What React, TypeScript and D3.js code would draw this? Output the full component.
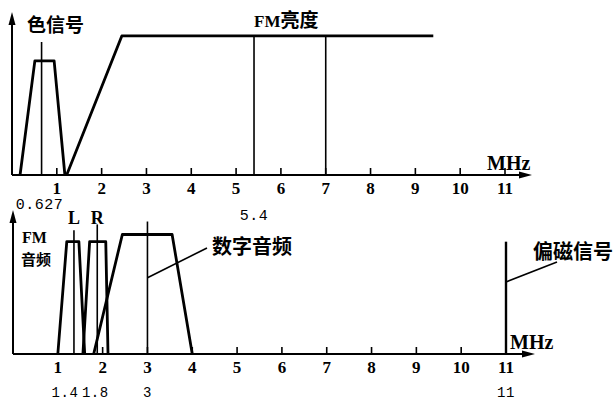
import React from "react";
import * as d3 from "d3";

// ---------- data ----------
const tickValues = [1, 2, 3, 4, 5, 6, 7, 8, 9, 10, 11];

// top panel
const chromaFreq = [0.18, 0.51, 0.94, 1.18];
const chromaLevel = [0, 0.7, 0.7, 0];
const lumaFreq = [1.22, 2.45, 9.4];
const lumaLevel = [0, 0.853, 0.853];
const topMarkerFreq = [0.66, 5.4, 7];
const topMarkerTop = [0.816, 0.853, 0.853];
const topMarkerLabels = ["0.627", "5.4", ""];

// bottom panel
const audioLFreq = [1.0, 1.2, 1.47, 1.6];
const audioLLevel = [0, 0.78, 0.78, 0];
const audioRFreq = [1.56, 1.71, 2.07, 2.12];
const audioRLevel = [0, 0.78, 0.78, 0];
const digitalFreq = [1.8, 2.44, 3.55, 4.0];
const digitalLevel = [0, 0.83, 0.83, 0];
const bottomMarkerFreq = [1.36, 1.88, 3, 11];
const bottomMarkerTop = [0.86, 0.9, 0.92, 0.78];
const bottomMarkerLabels = ["1.4", "1.8", "3", "11"];

const serif = "'Liberation Serif', 'Times New Roman', serif";
const mono = "'Liberation Mono', 'Courier New', monospace";
const cjk = "'Noto Sans CJK SC', sans-serif";

function Arrow({ x1, y1, x2, y2 }: { x1: number; y1: number; x2: number; y2: number }) {
  const ang = Math.atan2(y2 - y1, x2 - x1);
  const L = 13, W = 3.5;
  const bx = x2 - L * Math.cos(ang), by = y2 - L * Math.sin(ang);
  const px = -Math.sin(ang) * W, py = Math.cos(ang) * W;
  return (
    <g>
      <line x1={x1} y1={y1} x2={bx} y2={by} stroke="#000" strokeWidth={2} />
      <path d={`M${x2},${y2}L${bx + px},${by + py}L${bx - px},${by - py}Z`} fill="#000" />
    </g>
  );
}

function Panel({ x, y, xEnd, yTop }: any) {
  return (
    <g>
      <Arrow x1={x.range()[0]} y1={y(0)} x2={x.range()[0]} y2={yTop} />
      <Arrow x1={x.range()[0]} y1={y(0)} x2={xEnd} y2={y(0)} />
      {tickValues.map((t) => (
        <g key={t}>
          <line x1={x(t)} x2={x(t)} y1={y(0)} y2={y(0) - 7} stroke="#000" strokeWidth={1.6} />
          <text
            x={x(t)}
            y={y(0) + 19}
            textAnchor="middle"
            fontFamily={serif}
            fontWeight="bold"
            fontSize={17}
          >
            {t}
          </text>
        </g>
      ))}
    </g>
  );
}

export default function App() {
  const W = 614, H = 401;
  const xTop = d3.scaleLinear().domain([0, 11]).range([12, 505]);
  const yTop = d3.scaleLinear().domain([0, 1]).range([175, 12]);
  const xBot = d3.scaleLinear().domain([0, 11]).range([13, 506]);
  const yBot = d3.scaleLinear().domain([0, 1]).range([354, 210]);

  const lineTop = d3.line<number>().x((d) => xTop(d[0])).y((d) => yTop(d[1]));
  const lineBot = d3.line<number>().x((d) => xBot(d[0])).y((d) => yBot(d[1]));
  const zip = (a: number[], b: number[]) => a.map((v, i) => [v, b[i]]) as any;

  const bottomLabelDx = [-9, -2, 0, 0];

  return (
    <svg width={W} height={H} style={{ position: "absolute", left: 0, top: 0, background: "#fff" }}>
      <rect width={W} height={H} fill="#fff" />
      {/* ---------- top panel ---------- */}
      <Panel x={xTop} y={yTop} xEnd={532} yTop={12} />
      <path d={lineTop(zip(chromaFreq, chromaLevel))!} fill="none" stroke="#000" strokeWidth={2.8} strokeLinejoin="round" />
      <path d={lineTop(zip(lumaFreq, lumaLevel))!} fill="none" stroke="#000" strokeWidth={2.8} strokeLinejoin="round" />
      {topMarkerFreq.map((f, i) => (
        <line key={i} x1={xTop(f)} x2={xTop(f)} y1={yTop(0)} y2={yTop(topMarkerTop[i])} stroke="#000" strokeWidth={1.6} />
      ))}
      {topMarkerLabels.map((l, i) =>
        l ? (
          <text key={i} x={xTop(topMarkerFreq[i]) - (i === 0 ? 2 : 0)} y={i === 0 ? 209 : 220} textAnchor="middle" fontFamily={mono} fontSize={15} letterSpacing={0.5}>
            {l}
          </text>
        ) : null
      )}
      <text x={27} y={32} fontFamily={cjk} fontWeight="bold" fontSize={19}>色信号</text>
      <text x={254} y={27} fontFamily={serif} fontWeight="bold" fontSize={17}>
        FM<tspan fontFamily={cjk} fontSize={19}>亮度</tspan>
      </text>
      <text x={487} y={170} fontFamily={serif} fontWeight="bold" fontSize={20}>MHz</text>

      {/* ---------- bottom panel ---------- */}
      <Panel x={xBot} y={yBot} xEnd={535} yTop={210} />
      <path d={lineBot(zip(audioLFreq, audioLLevel))!} fill="none" stroke="#000" strokeWidth={2.8} strokeLinejoin="round" />
      <path d={lineBot(zip(audioRFreq, audioRLevel))!} fill="none" stroke="#000" strokeWidth={2.8} strokeLinejoin="round" />
      <path d={lineBot(zip(digitalFreq, digitalLevel))!} fill="none" stroke="#000" strokeWidth={2.8} strokeLinejoin="round" />
      {bottomMarkerFreq.map((f, i) => (
        <line key={i} x1={xBot(f)} x2={xBot(f)} y1={yBot(0)} y2={yBot(bottomMarkerTop[i])} stroke="#000" strokeWidth={i === 3 ? 2.4 : 1.6} />
      ))}
      {bottomMarkerLabels.map((l, i) => (
        <text key={i} x={xBot(bottomMarkerFreq[i]) + bottomLabelDx[i]} y={397} textAnchor="middle" fontFamily={mono} fontSize={14} letterSpacing={0.5}>
          {l}
        </text>
      ))}
      <text x={xBot(1.36)} y={224} textAnchor="middle" fontFamily={serif} fontWeight="bold" fontSize={18}>L</text>
      <text x={xBot(1.88)} y={224} textAnchor="middle" fontFamily={serif} fontWeight="bold" fontSize={18}>R</text>
      <text x={22} y={243} fontFamily={serif} fontWeight="bold" fontSize={16}>FM</text>
      <text x={21} y={265} fontFamily={cjk} fontWeight="bold" fontSize={15}>音频</text>
      {/* leader: digital audio */}
      <line x1={xBot(3)} y1={yBot(0.53)} x2={207} y2={248} stroke="#000" strokeWidth={1.6} />
      <text x={212} y={254} fontFamily={cjk} fontWeight="bold" fontSize={20}>数字音频</text>
      {/* leader: bias */}
      <line x1={xBot(11)} y1={yBot(0.5)} x2={557} y2={262} stroke="#000" strokeWidth={1.6} />
      <text x={533} y={259} fontFamily={cjk} fontWeight="bold" fontSize={20}>偏磁信号</text>
      <text x={510} y={349} fontFamily={serif} fontWeight="bold" fontSize={20}>MHz</text>
    </svg>
  );
}
